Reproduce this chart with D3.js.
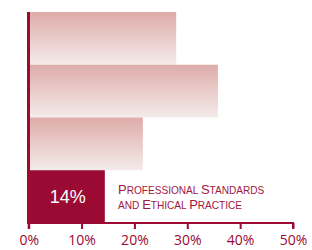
<!DOCTYPE html>
<html>
<head>
<meta charset="utf-8">
<script src="https://cdn.jsdelivr.net/npm/d3@7"></script>
<style>
  html, body { margin: 0; padding: 0; background: #fff; }
  svg { display: block; }
</style>
</head>
<body>
<div id="chart"></div>
<script>
// Data
const categories = ['a', 'b', 'c', 'Professional Standards and Ethical Practice'];
const values = [27.9, 35.8, 21.6, 14.4];
const tickValues = [0, 10, 20, 30, 40, 50];
const highlight = 3;
const labelLines = ['Professional Standards', 'and Ethical Practice'];

const W = 312, H = 250;
const dark = '#9b0a33';
const svg = d3.select('#chart').append('svg').attr('width', W).attr('height', H);

const x = d3.scaleLinear().domain([0, 50]).range([28.7, 293]);
const y = d3.scaleBand().domain(categories).range([12, 223]).padding(0);

// bar gradient (top rose -> nearly white)
const defs = svg.append('defs');
const grad = defs.append('linearGradient').attr('id', 'barGrad')
  .attr('x1', 0).attr('y1', 0).attr('x2', 0).attr('y2', 1);
grad.append('stop').attr('offset', '0%').attr('stop-color', '#deaca9');
grad.append('stop').attr('offset', '100%').attr('stop-color', '#f4ebea');

svg.append('g').selectAll('rect').data(values).enter().append('rect')
  .attr('x', x(0))
  .attr('y', (d, i) => y(categories[i]))
  .attr('width', d => x(d) - x(0))
  .attr('height', y.bandwidth())
  .attr('fill', (d, i) => i === highlight ? dark : 'url(#barGrad)');

// value label on highlighted bar
const hv = values[highlight];
svg.append('text')
  .attr('x', (x(0) + x(hv)) / 2 + 1)
  .attr('y', y(categories[highlight]) + y.bandwidth() / 2 + 6.5)
  .attr('text-anchor', 'middle')
  .attr('fill', '#fff')
  .attr('font-family', '"Liberation Sans", Arial, sans-serif')
  .attr('font-size', 18)
  .text(Math.round(hv) + '%');

// category label, hand-made small caps
const lab = svg.append('text')
  .attr('fill', '#a3173f')
  .attr('font-family', '"Liberation Sans", Arial, sans-serif');
labelLines.forEach((t, i) => {
  const parts = t.match(/[A-Z]+|[^A-Z]+/g);
  parts.forEach((p, j) => {
    const s = lab.append('tspan')
      .attr('font-size', /[A-Z]/.test(p) ? 13 : 10.1)
      .text(p.toUpperCase());
    if (j === 0) s.attr('x', 118).attr('y', 194 + i * 15);
  });
});

// left spine
svg.append('line')
  .attr('x1', 28.5).attr('x2', 28.5)
  .attr('y1', 12).attr('y2', 224)
  .attr('stroke', dark).attr('stroke-width', 3);

// x axis
const axis = svg.append('g')
  .attr('transform', 'translate(0,223)')
  .call(d3.axisBottom(x).tickValues(tickValues).tickSize(6).tickFormat(d => d + '%'));
axis.select('.domain').attr('stroke', dark).attr('stroke-width', 2)
  .attr('d', `M${x(0)},6V0H${x(50)}V6`);
axis.selectAll('.tick line').attr('stroke', dark).attr('stroke-width', 2);
axis.selectAll('.tick text')
  .attr('fill', dark)
  .attr('font-family', '"Open Sans", sans-serif')
  .attr('font-size', 14)
  .attr('dy', '0.95em');
</script>
</body>
</html>
